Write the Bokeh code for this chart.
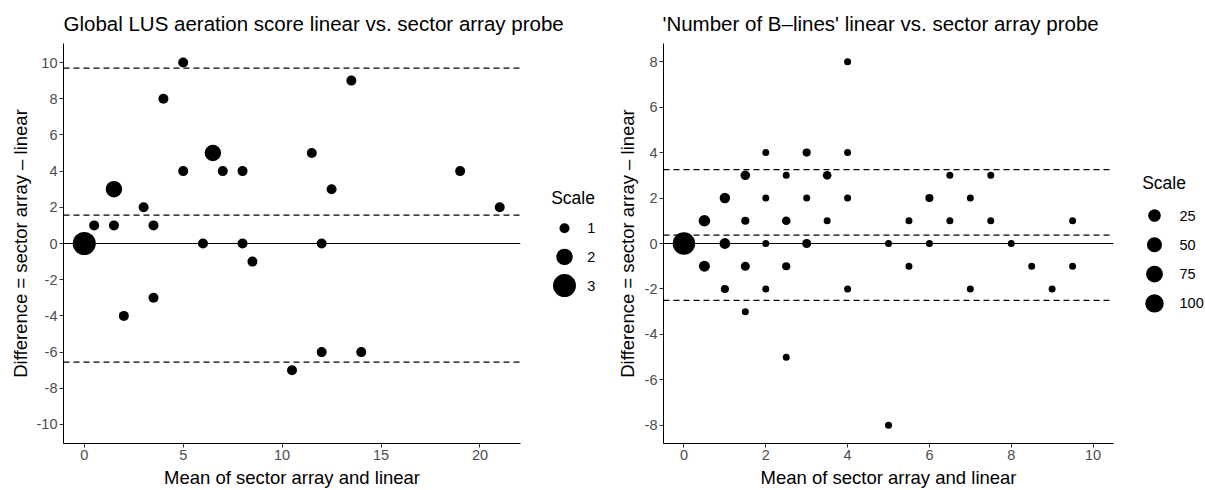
import math
from bokeh.plotting import figure
from bokeh.layouts import row, column
from bokeh.models import Range1d, Span, FixedTicker, CustomJSTickFormatter, ColumnDataSource
from bokeh.core.properties import value
from bokeh.embed import file_html
from bokeh.resources import INLINE

# ---------------- data ----------------
left_title = "Global LUS aeration score linear vs. sector array probe"
right_title = "'Number of B\u2013lines' linear vs. sector array probe"
x_label = "Mean of sector array and linear"
y_label = "Difference = sector array \u2013 linear"
legend_title = "Scale"

left_mean = [0, 0.5, 1.5, 1.5, 2, 3, 3.5, 3.5, 4, 5, 5, 6, 6.5, 7, 8, 8, 8.5,
             10.5, 11.5, 12, 12, 12.5, 13.5, 14, 19, 21]
left_diff = [0, 1, 3, 1, -4, 2, 1, -3, 8, 10, 4, 0, 5, 4, 4, 0, -1,
             -7, 5, 0, -6, 3, 9, -6, 4, 2]
left_scale = [3, 1, 2, 1, 1, 1, 1, 1, 1, 1, 1, 1, 2, 1, 1, 1, 1,
              1, 1, 1, 1, 1, 1, 1, 1, 1]
left_limits = [9.69, 1.57, -6.55]          # upper LoA, bias, lower LoA
left_breaks = [1, 2, 3]
left_xticks = [0, 5, 10, 15, 20]
left_yticks = [-10, -8, -6, -4, -2, 0, 2, 4, 6, 8, 10]
left_xrange = (-1.05, 22.05)
left_yrange = (-11.05, 11.05)

right_mean = [0, 0.5, 0.5, 1, 1, 1, 1.5, 1.5, 1.5, 1.5, 2, 2, 2, 2,
              2.5, 2.5, 2.5, 2.5, 3, 3, 3, 3.5, 3.5, 4, 4, 4, 4,
              5, 5, 5.5, 5.5, 6, 6, 6.5, 6.5, 7, 7, 7.5, 7.5, 8, 8.5, 9, 9.5, 9.5]
right_diff = [0, 1, -1, 2, 0, -2, 3, 1, -1, -3, 4, 2, 0, -2,
              3, 1, -1, -5, 4, 2, 0, 3, 1, 8, 4, 2, -2,
              0, -8, 1, -1, 2, 0, 3, 1, 2, -2, 3, 1, 0, -1, -2, 1, -1]
right_count = [180, 17, 13, 10, 12, 2, 6, 2, 4, 1, 1, 1, 1, 1,
               1, 3, 2, 1, 2, 1, 4, 3, 1, 1, 1, 1, 1,
               1, 1, 1, 1, 2, 1, 1, 1, 1, 1, 1, 1, 1, 1, 1, 1, 1]
right_limits = [3.25, 0.37, -2.5]
right_breaks = [25, 50, 75, 100]
right_xticks = [0, 2, 4, 6, 8, 10]
right_yticks = [-8, -6, -4, -2, 0, 2, 4, 6, 8]
right_xrange = (-0.5, 10.5)
right_yrange = (-8.8, 8.8)

# ---------------- style ----------------
FONT = "Liberation Sans"
TITLE_H = 43     # title strip height (frame top at y=43)
H = 447          # plot / legend height
BOTTOM = 47
FRAME_H = H - BOTTOM


def left_size(s):
    return 3.5 + 6.5 * s


def right_size(c):
    return 7 + 1.15 * math.sqrt(max(c - 1, 0))


def style_axis(ax, ticks, label, label_standoff):
    ax.ticker = FixedTicker(ticks=ticks, minor_ticks=[])
    ax.formatter = CustomJSTickFormatter(code="return String(tick)")
    ax.axis_label = label
    ax.axis_line_color = "black"
    ax.axis_line_width = 1
    ax.major_tick_line_color = "#333333"
    ax.major_tick_in = 0
    ax.major_tick_out = 4
    ax.minor_tick_line_color = None
    ax.major_label_text_font = FONT
    ax.major_label_text_font_size = "14.5px"
    ax.major_label_text_color = "#4d4d4d"
    ax.major_label_standoff = 2
    ax.axis_label_text_font = FONT
    ax.axis_label_text_font_size = "18.5px"
    ax.axis_label_text_font_style = "normal"
    ax.axis_label_text_color = "black"
    ax.axis_label_standoff = label_standoff


def make_plot(xs, ys, sizes, limits, xticks, yticks, xr, yr, frame_w, ylab_standoff):
    p = figure(width=63 + frame_w + 10, height=H,
               x_range=Range1d(*xr), y_range=Range1d(*yr),
               output_backend="svg", toolbar_location=None,
               min_border_left=63, min_border_right=10,
               min_border_top=0, min_border_bottom=BOTTOM)
    p.xgrid.visible = False
    p.ygrid.visible = False
    p.outline_line_color = None
    style_axis(p.xaxis[0], xticks, x_label, 4)
    style_axis(p.yaxis[0], yticks, y_label, ylab_standoff)
    p.add_layout(Span(location=0, dimension="width", line_color="black",
                      line_width=1.2, level="underlay"))
    for v in limits:
        p.add_layout(Span(location=v, dimension="width", line_color="black",
                          line_width=1.3, line_dash="6 4", level="underlay"))
    src = ColumnDataSource(dict(x=xs, y=ys, s=sizes))
    p.scatter("x", "y", size="s", source=src, fill_color="black", line_color=None)
    return p


def make_title(text, width, x0):
    t = figure(width=width, height=TITLE_H, x_range=Range1d(0, width),
               y_range=Range1d(TITLE_H, 0), x_axis_type=None, y_axis_type=None,
               output_backend="svg", toolbar_location=None, min_border=0)
    t.outline_line_color = None
    t.text(x=[x0], y=[23], text=[text], text_font=value(FONT),
           text_font_size="20.5px", text_baseline="middle", text_align="left",
           text_color="black")
    return t


def make_legend(breaks, sizes, width, title_x, title_mid, key0, step, dot_x, lab_x):
    # legend frame is aligned with the plot frame (page y 43..443); map data y = page y
    lg = figure(width=width, height=H, x_range=Range1d(0, width),
                y_range=Range1d(TITLE_H + FRAME_H, TITLE_H),
                x_axis_type=None, y_axis_type=None,
                output_backend="svg", toolbar_location=None,
                min_border_left=0, min_border_right=0,
                min_border_top=0, min_border_bottom=BOTTOM)
    lg.outline_line_color = None
    lg.text(x=[title_x], y=[title_mid], text=[legend_title],
            text_font=value(FONT), text_font_size="17.5px",
            text_baseline="middle", text_align="left", text_color="black")
    ky = [key0 + i * step for i in range(len(breaks))]
    lg.scatter(x=[dot_x] * len(breaks), y=ky, size=sizes,
               fill_color="black", line_color=None)
    lg.text(x=[lab_x] * len(breaks), y=ky, text=[str(b) for b in breaks],
            text_font=value(FONT), text_font_size="14.5px",
            text_baseline="middle", text_align="left", text_color="black")
    return lg


# ---------------- left panel ----------------
pL = make_plot(left_mean, left_diff, [left_size(s) for s in left_scale], left_limits,
               left_xticks, left_yticks, left_xrange, left_yrange, 457, 3)
lL = make_legend(left_breaks, [left_size(b) for b in left_breaks], 70,
                 20.7, 197.5, 227.7, 28.7, 34, 56.7)
tL = make_title(left_title, 530 + 70, 63)

# ---------------- right panel ----------------
pR = make_plot(right_mean, right_diff, [right_size(c) for c in right_count], right_limits,
               right_xticks, right_yticks, right_xrange, right_yrange, 450, 4)
lR = make_legend(right_breaks, [right_size(b) for b in right_breaks], 82,
                 18.7, 182, 215, 29.3, 31, 56)
tR = make_title(right_title, 523 + 82, 62)

layout = row(column(tL, row(pL, lL)), column(tR, row(pR, lR)))

open("out.html", "w").write(file_html(layout, INLINE))
